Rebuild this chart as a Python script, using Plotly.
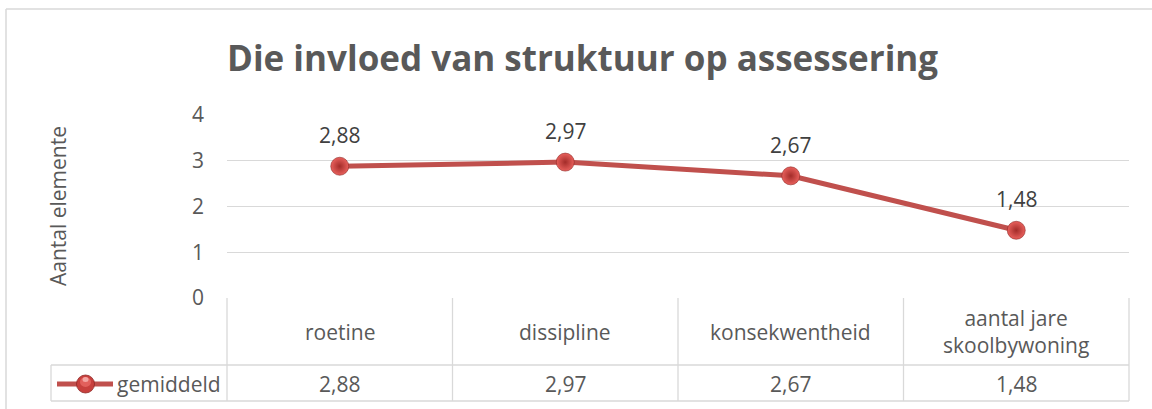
import plotly.graph_objects as go

categories = ["roetine", "dissipline", "konsekwentheid", "aantal jare skoolbywoning"]
category_labels = ["roetine", "dissipline", "konsekwentheid", "aantal jare<br>skoolbywoning"]
values = [2.88, 2.97, 2.67, 1.48]
series_name = "gemiddeld"
title_text = "Die invloed van struktuur op assessering"
y_title = "Aantal elemente"
y_ticks = [0, 1, 2, 3, 4]

W, H = 1152, 409
FONT = "Open Sans"
GREY = "#595959"
LINE_C = "#c0504d"
GRID_C = "#d9d9d9"


def px(x):
    return x / W


def py(y):
    return 1 - y / H


def fmt(v):
    return f"{v:.2f}".replace(".", ",")


x_left, x_right = 227, 1129
y_top, y_zero = 115, 298
row1_bot, row2_bot = 365, 401
legend_left = 51

fig = go.Figure()
fig.add_trace(go.Scatter(
    x=list(range(len(categories))), y=values, mode="lines+markers",
    name=series_name, showlegend=False,
    line=dict(color=LINE_C, width=5),
    marker=dict(size=18, color="#e8605c",
                gradient=dict(type="radial", color="#a32c29"),
                line=dict(width=0.6, color="#8f2724")),
    cliponaxis=False,
))

annotations = []
for i, v in enumerate(values):
    annotations.append(dict(x=i, y=v, xref="x", yref="y", text=fmt(v), showarrow=False,
                            yshift=31, font=dict(family=FONT, size=21, color="#404040")))

annotations.append(dict(x=px(582), y=py(57), xref="paper", yref="paper", text=f"<b>{title_text}</b>",
                        showarrow=False, font=dict(family=FONT, size=35, color=GREY),
                        xanchor="center", yanchor="middle"))
annotations.append(dict(x=px(58), y=py(206), xref="paper", yref="paper", text=y_title, textangle=-90,
                        showarrow=False, font=dict(family=FONT, size=21, color=GREY),
                        xanchor="center", yanchor="middle"))

n = len(categories)
col_w = (x_right - x_left) / n
shapes = []
line_style = dict(color=GRID_C, width=1.3)
# outer chart border (left + top visible)
shapes.append(dict(type="line", xref="paper", yref="paper", x0=px(6), x1=px(6), y0=py(9), y1=0,
                   line=dict(color="#d9d9d9", width=1.5)))
shapes.append(dict(type="line", xref="paper", yref="paper", x0=px(6), x1=1, y0=py(9), y1=py(9),
                   line=dict(color="#d9d9d9", width=1.5)))
# table lines
shapes.append(dict(type="line", xref="paper", yref="paper", x0=px(legend_left), x1=px(x_right),
                   y0=py(row1_bot), y1=py(row1_bot), line=line_style))
shapes.append(dict(type="line", xref="paper", yref="paper", x0=px(legend_left), x1=px(x_right),
                   y0=py(row2_bot), y1=py(row2_bot), line=line_style))
for k in range(n + 1):
    xx = x_left + k * col_w
    shapes.append(dict(type="line", xref="paper", yref="paper", x0=px(xx), x1=px(xx),
                       y0=py(y_zero), y1=py(row2_bot), line=line_style))
shapes.append(dict(type="line", xref="paper", yref="paper", x0=px(legend_left), x1=px(legend_left),
                   y0=py(row1_bot), y1=py(row2_bot), line=line_style))

for k in range(n):
    cx = x_left + (k + 0.5) * col_w
    annotations.append(dict(x=px(cx), y=py((y_zero + row1_bot) / 2), xref="paper", yref="paper",
                            text=category_labels[k], showarrow=False,
                            font=dict(family=FONT, size=21, color=GREY), xanchor="center", yanchor="middle"))
    annotations.append(dict(x=px(cx), y=py((row1_bot + row2_bot) / 2 + 1), xref="paper", yref="paper",
                            text=fmt(values[k]), showarrow=False,
                            font=dict(family=FONT, size=21, color=GREY), xanchor="center", yanchor="middle"))

# legend key inside the table
ly = (row1_bot + row2_bot) / 2 + 1
shapes.append(dict(type="line", xref="paper", yref="paper", x0=px(57), x1=px(113), y0=py(ly), y1=py(ly),
                   line=dict(color=LINE_C, width=5)))
shapes.append(dict(type="circle", xref="paper", yref="paper", x0=px(76.5), x1=px(94.5), y0=py(ly + 9),
                   y1=py(ly - 9), fillcolor="#c8403d", line=dict(color="#8f2724", width=0.8)))
shapes.append(dict(type="circle", xref="paper", yref="paper", x0=px(80), x1=px(91), y0=py(ly + 3),
                   y1=py(ly - 7), fillcolor="#e2605c", line=dict(width=0)))
shapes.append(dict(type="circle", xref="paper", yref="paper", x0=px(82.5), x1=px(88.5), y0=py(ly - 2),
                   y1=py(ly - 7), fillcolor="#f3a5a2", line=dict(width=0)))
annotations.append(dict(x=px(115), y=py(ly), xref="paper", yref="paper", text=series_name, showarrow=False,
                        font=dict(family=FONT, size=21, color=GREY), xanchor="left", yanchor="middle"))

fig.update_layout(
    width=W, height=H, autosize=False,
    margin=dict(l=0, r=0, t=0, b=0, pad=0, autoexpand=False),
    paper_bgcolor="white", plot_bgcolor="white",
    showlegend=False,
    xaxis=dict(domain=[px(x_left), px(x_right)], range=[-0.5, n - 0.5], showticklabels=False,
               showgrid=False, zeroline=False, showline=False, fixedrange=True, automargin=False),
    yaxis=dict(domain=[py(y_zero), py(y_top)], range=[0, 4], tickvals=y_ticks, automargin=False,
               ticktext=[str(t) for t in y_ticks], showgrid=True, gridcolor=GRID_C, gridwidth=1.3,
               zeroline=False, showline=False, ticklabelstandoff=22,
               tickfont=dict(family=FONT, size=21, color=GREY)),
    shapes=shapes, annotations=annotations,
)

fig.write_html("out.html", config={"displayModeBar": False, "staticPlot": True},
               post_script="document.body.style.margin='0';document.body.style.overflow='hidden';")
